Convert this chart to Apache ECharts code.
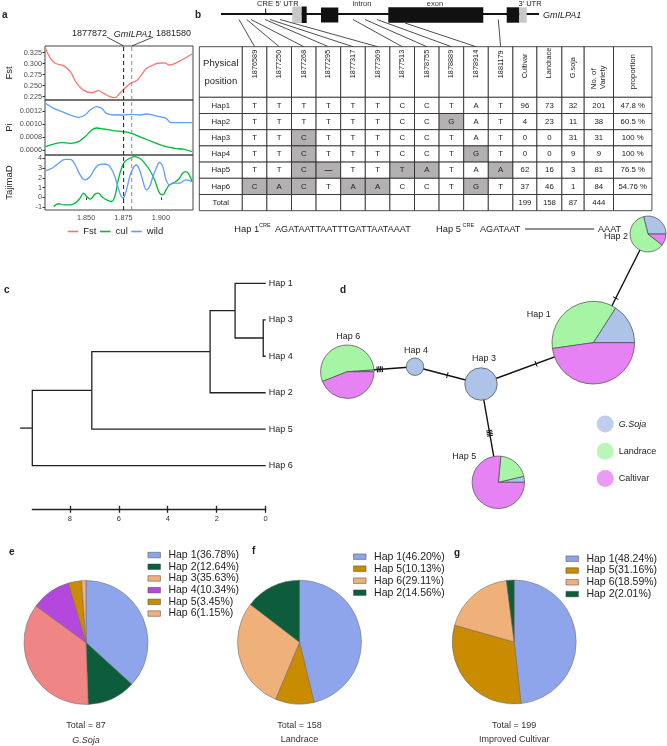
<!DOCTYPE html>
<html>
<head>
<meta charset="utf-8">
<script src="https://cdn.jsdelivr.net/npm/echarts@6/dist/echarts.min.js"></script>
<style>
  html, body { margin: 0; padding: 0; background: #fff; }
  #chart { width: 667px; height: 746px; }
</style>
</head>
<body>
<div id="chart"></div>
<script>
const FONT = '"Liberation Sans", Arial, sans-serif';

// ---------- a: sliding window stats (x in Mb)
const fstPts = [[1.8228,0.335],[1.8261,0.312],[1.8294,0.301],[1.8350,0.295],[1.8394,0.282],[1.8438,0.255],[1.8482,0.240],[1.8538,0.234],[1.8582,0.239],[1.8615,0.233],[1.8659,0.225],[1.8692,0.223],[1.8726,0.233],[1.8759,0.244],[1.8803,0.257],[1.8836,0.261],[1.8869,0.274],[1.8903,0.289],[1.8936,0.295],[1.8980,0.301],[1.9024,0.302],[1.9058,0.297],[1.9124,0.306],[1.9208,0.322]];
const piWildPts = [[1.8228,0.001318],[1.8283,0.001241],[1.8338,0.00119],[1.8394,0.001138],[1.8449,0.001103],[1.8493,0.001138],[1.8527,0.001215],[1.8571,0.001267],[1.8604,0.001241],[1.8637,0.001164],[1.8692,0.001138],[1.8748,0.001138],[1.8803,0.001149],[1.8858,0.001138],[1.8903,0.001154],[1.8947,0.001138],[1.8991,0.001113],[1.9035,0.001087],[1.9069,0.00102],[1.9124,0.00102],[1.9208,0.00102]];
const piCulPts = [[1.8228,0.000651],[1.8283,0.000692],[1.8338,0.000713],[1.8394,0.000703],[1.8449,0.000728],[1.8493,0.000805],[1.8538,0.000908],[1.8571,0.000938],[1.8615,0.000923],[1.8681,0.000897],[1.8748,0.000882],[1.8803,0.000856],[1.8858,0.000805],[1.8914,0.000754],[1.8969,0.000703],[1.9035,0.000651],[1.9091,0.000626],[1.9157,0.00061],[1.9208,0.000574]];
const tdWildPts = [[1.8228,2.71],[1.8272,2.98],[1.8316,3.49],[1.8361,3.90],[1.8394,3.90],[1.8427,3.32],[1.8460,2.31],[1.8493,1.80],[1.8527,2.14],[1.8560,2.98],[1.8593,3.39],[1.8626,3.42],[1.8659,3.15],[1.8692,2.14],[1.8726,0.44],[1.8748,-0.07],[1.8770,0.78],[1.8792,2.14],[1.8814,2.98],[1.8836,3.32],[1.8858,2.81],[1.8881,1.63],[1.8903,0.78],[1.8925,1.12],[1.8947,2.14],[1.8969,2.98],[1.8991,3.59],[1.9013,3.15],[1.9035,1.80],[1.9058,1.29],[1.9080,1.46],[1.9124,1.46],[1.9168,1.80],[1.9208,1.63]];
const tdCulPts = [[1.8283,-0.92],[1.8316,-0.64],[1.8350,-0.75],[1.8394,-0.75],[1.8427,-0.58],[1.8460,-0.07],[1.8482,0.44],[1.8504,0.10],[1.8527,-0.17],[1.8560,0.34],[1.8582,0.44],[1.8604,0.10],[1.8637,-0.24],[1.8670,-0.41],[1.8692,0.10],[1.8715,1.80],[1.8737,2.98],[1.8759,3.66],[1.8792,4.0],[1.8825,4.17],[1.8858,4.0],[1.8892,3.49],[1.8925,2.81],[1.8958,1.80],[1.8991,0.44],[1.9013,0.27],[1.9035,0.78],[1.9058,1.29],[1.9091,1.53],[1.9124,1.97],[1.9146,2.47],[1.9168,2.64],[1.9190,2.31],[1.9208,1.63]];
const geneLabels = ['1877872', '1881580'];
const geneMarkX = [1.8751, 1.8805];   // where the dashed lines sit in the picture
const xTicks = [1.850, 1.875, 1.900];
const fstTicks = [0.225, 0.250, 0.275, 0.300, 0.325];
const piTicks = [0.0006, 0.0008, 0.0010, 0.0012];
const tdTicks = [-1, 0, 1, 2, 3, 4];

// ---------- b: haplotype table
const snpIds = ['1876589','1877250','1877268','1877295','1877317','1877369','1877513','1878755','1878889','1878914','1881179'];
const hapNames = ['Hap1','Hap2','Hap3','Hap4','Hap5','Hap6'];
const hapAlleles = [
  ['T','T','T','T','T','T','C','C','T','A','T'],
  ['T','T','T','T','T','T','C','C','G','A','T'],
  ['T','T','C','T','T','T','C','C','T','A','T'],
  ['T','T','C','T','T','T','C','C','T','G','T'],
  ['T','T','C','—','T','T','T','A','T','A','A'],
  ['C','A','C','T','A','A','C','C','T','G','T']
];
const cultivarN = [96, 4, 0, 0, 62, 37];
const landraceN = [73, 23, 0, 0, 16, 46];
const sojaN = [32, 11, 31, 9, 3, 1];
const varietyN = [201, 38, 31, 9, 81, 84];
const proportion = ['47.8 %', '60.5 %', '100 %', '100 %', '76.5 %', '54.76 %'];
const countHeads = ['Cultivar', 'Landrace', 'G.soja', 'No. of\nVariety', 'proportion'];

// ---------- c: tree
const treeNames = ['root','n1','n2','n3','n4','Hap 1','Hap 3','Hap 4','Hap 2','Hap 5','Hap 6'];
const treeParent = [-1, 0, 1, 2, 3, 3, 4, 4, 2, 1, 0];
const treeHeight = [9.53, 7.1, 2.27, 1.25, 0.1, 0, 0, 0, 0, 0, 0];
const treeTicks = [0, 2, 4, 6, 8];

// ---------- d: network
const netNames = ['Hap 1','Hap 2','Hap 3','Hap 4','Hap 5','Hap 6'];
const netEdges = [[5, 3], [3, 2], [2, 0], [2, 4], [0, 1]];
const groupNames = ['G.Soja', 'Landrace', 'Caltivar'];

// ---------- e-g: pies
const sojaPie = [['Hap 1',36.78],['Hap 2',12.64],['Hap 3',35.63],['Hap 4',10.34],['Hap 5',3.45],['Hap 6',1.15]];
const landPie = [['Hap 1',46.20],['Hap 5',10.13],['Hap 6',29.11],['Hap 2',14.56]];
const cultPie = [['Hap 1',48.24],['Hap 5',31.16],['Hap 6',18.59],['Hap 2',2.01]];
const pieTotals = [87, 158, 199];
const pieTitles = ['G.Soja', 'Landrace', 'Improved Cultivar'];

// ---------- layout & styles
const HAP_COL = {'Hap 1':'#8ea5ec','Hap 2':'#0d5c3b','Hap 3':'#f0b07a','Hap 4':'#b447dc','Hap 5':'#c98b00','Hap 6':'#f0b07a'};
const SOJA_HAP3_SLICE = '#ef8584';
const GROUP_COL = ['#aec3e8', '#a6f5a4', '#e682f3'];
const SHADE = '#b2b0b0';

const TABLE = {left: 199.3, top: 46.7};
const COL_W = [43].concat(Array(11).fill(24.6), [24, 25, 22.3, 29.3, 38.4]);
const COL_X = [0];
COL_W.forEach(w => COL_X.push(COL_X[COL_X.length - 1] + w));
const HEAD_H = 50.6, ROW_H = 16.2;
const TABLE_W = COL_X[COL_X.length - 1], TABLE_H = HEAD_H + ROW_H * 7;

const NET = {left: 300, top: 200, width: 367, height: 310};
const NET_POS = [[293.3, 142.7], [348, 34], [181, 184], [115, 166.7], [198.3, 282.3], [47.3, 171.7]];
const NET_LABEL = [[-54.6, -28.4], [-32, 3], [3, -25], [1, -16], [-34, -25.6], [1, -35]];
const NET_TICK_AT = [0.48, 0.49, 0.49, 0.5, 0.41];
const NET_R = 2.915;

const snpMapX = [239, 246.7, 251, 265, 270, 280, 353, 365, 377, 405, 498.3];

// ---------- table cells
const tableCells = [];
['Physical\nposition'].concat(snpIds, countHeads).forEach((t, c) => tableCells.push({col: c, row: 0, text: t}));
hapNames.forEach((h, i) => {
  const row = i + 1;
  tableCells.push({col: 0, row, text: h});
  hapAlleles[i].forEach((a, k) => tableCells.push({col: k + 1, row, text: a, shade: a !== hapAlleles[0][k]}));
  [cultivarN[i], landraceN[i], sojaN[i], varietyN[i], proportion[i]]
    .forEach((v, k) => tableCells.push({col: 12 + k, row, text: String(v)}));
});
const sum = arr => arr.reduce((a, b) => a + b, 0);
tableCells.push({col: 0, row: 7, text: 'Total'});
snpIds.forEach((s, k) => tableCells.push({col: k + 1, row: 7, text: ''}));
[sum(cultivarN), sum(landraceN), sum(sojaN), sum(varietyN), ''].forEach((v, k) => tableCells.push({col: 12 + k, row: 7, text: String(v)}));

function drawCell(params, api) {
  const cell = tableCells[params.dataIndex];
  const y0 = cell.row === 0 ? 0 : HEAD_H + (cell.row - 1) * ROW_H;
  const y1 = cell.row === 0 ? HEAD_H : y0 + ROW_H;
  const a = api.coord([COL_X[cell.col], y0]);
  const b = api.coord([COL_X[cell.col + 1], y1]);
  const cx = (a[0] + b[0]) / 2, cy = (a[1] + b[1]) / 2;
  const kids = [{
    type: 'rect',
    shape: {x: a[0], y: a[1], width: b[0] - a[0], height: b[1] - a[1]},
    style: {fill: cell.shade ? SHADE : '#fff', stroke: '#222', lineWidth: 0.8}
  }];
  if (cell.row === 0 && cell.col > 0) {
    const wide = cell.col >= 15;
    kids.push({
      type: 'text', x: cx, y: a[1] + (wide ? 42.5 : 31.5), rotation: Math.PI / 2,
      style: {text: cell.text, fontFamily: FONT, fontSize: wide ? 7.8 : 7.3, lineHeight: 9,
        fill: '#222', align: 'left', verticalAlign: 'middle'}
    });
  } else {
    const head = cell.row === 0;
    kids.push({
      type: 'text', x: cx, y: cy,
      style: {text: cell.text, fontFamily: FONT, fontSize: head ? 9.5 : 7.8, lineHeight: head ? 18 : 10,
        fontWeight: cell.text === '—' ? 'bold' : 'normal',
        fill: '#222', align: 'center', verticalAlign: 'middle'}
    });
  }
  return {type: 'group', children: kids};
}

// ---------- tree geometry
const treeY = new Array(treeNames.length).fill(0);
let leafIdx = 0;
treeNames.forEach((n, i) => { if (!treeParent.includes(i)) treeY[i] = leafIdx++; });
for (let i = treeNames.length - 1; i >= 0; i--) {
  const kids = treeParent.map((p, j) => p === i ? j : -1).filter(j => j >= 0);
  if (kids.length) treeY[i] = sum(kids.map(j => treeY[j])) / kids.length;
}
const TREE_LINE = {stroke: '#222', lineWidth: 1.3, fill: 'none'};
function drawTree(params, api) {
  const i = params.dataIndex;
  const pt = api.coord([treeHeight[i], treeY[i]]);
  const p = treeParent[i];
  const kids = [];
  if (p < 0) {
    const s = api.coord([treeHeight[i] + 0.5, treeY[i]]);
    kids.push({type: 'line', shape: {x1: s[0], y1: s[1], x2: pt[0], y2: pt[1]}, style: TREE_LINE});
  } else {
    const q = api.coord([treeHeight[p], treeY[p]]);
    kids.push({type: 'polyline', shape: {points: [[q[0], q[1]], [q[0], pt[1]], pt]}, style: TREE_LINE});
  }
  if (!treeParent.includes(i)) {
    kids.push({type: 'text', x: pt[0] + 3, y: pt[1],
      style: {text: treeNames[i], fontFamily: FONT, fontSize: 9, fill: '#222', align: 'left', verticalAlign: 'middle'}});
  }
  return {type: 'group', children: kids};
}

// ---------- network geometry
const diffCount = (i, j) => hapAlleles[i].filter((a, k) => a !== hapAlleles[j][k]).length;
function drawEdge(params, api) {
  const [i, j] = netEdges[params.dataIndex];
  const p = api.coord(NET_POS[i]), q = api.coord(NET_POS[j]);
  const dx = q[0] - p[0], dy = q[1] - p[1], L = Math.hypot(dx, dy);
  const ux = dx / L, uy = dy / L, nx = -uy, ny = ux;
  const kids = [{type: 'line', shape: {x1: p[0], y1: p[1], x2: q[0], y2: q[1]}, style: {stroke: '#111', lineWidth: 1.4}}];
  const n = diffCount(i, j);
  for (let k = 0; k < n; k++) {
    const d = NET_TICK_AT[params.dataIndex] * L + (k - (n - 1) / 2) * 1.7;
    const cx = p[0] + ux * d, cy = p[1] + uy * d;
    kids.push({type: 'line', shape: {x1: cx - nx * 3, y1: cy - ny * 3, x2: cx + nx * 3, y2: cy + ny * 3},
      style: {stroke: '#111', lineWidth: 1}});
  }
  return {type: 'group', children: kids};
}
function drawNode(params, api) {
  const i = params.dataIndex;
  const c = api.coord(NET_POS[i]);
  const counts = [sojaN[i], landraceN[i], cultivarN[i]];
  const tot = sum(counts);
  const r = NET_R * Math.sqrt(tot);
  const nz = counts.filter(v => v > 0).length;
  const stroke = {stroke: '#4a4a4a', lineWidth: 0.7};
  const kids = [];
  let acc = 0;
  counts.forEach((v, k) => {
    if (!v) return;
    if (nz === 1) {
      kids.push({type: 'circle', shape: {cx: c[0], cy: c[1], r}, style: Object.assign({fill: GROUP_COL[k]}, stroke)});
      return;
    }
    const a0 = acc / tot * Math.PI * 2, a1 = (acc + v) / tot * Math.PI * 2;
    acc += v;
    kids.push({type: 'sector', shape: {cx: c[0], cy: c[1], r0: 0, r, startAngle: -a1, endAngle: -a0, clockwise: true},
      style: Object.assign({fill: GROUP_COL[k]}, stroke)});
  });
  kids.push({type: 'text', x: c[0] + NET_LABEL[i][0], y: c[1] + NET_LABEL[i][1],
    style: {text: netNames[i], fontFamily: FONT, fontSize: 9, fill: '#222', align: 'center', verticalAlign: 'middle'}});
  return {type: 'group', children: kids};
}

// ---------- helpers for graphic annotations
function txt(x, y, text, o) {
  o = o || {};
  const align = o.align || 'left', va = o.va || 'middle';
  return {type: 'text', x, y, silent: true, style: {
    text, fontFamily: FONT, fontSize: o.size || 9, fontStyle: o.italic ? 'italic' : 'normal',
    fontWeight: o.bold ? 'bold' : 'normal', fill: o.color || '#222',
    align, verticalAlign: va, textAlign: align, textVerticalAlign: va}};
}
function seg(x1, y1, x2, y2, w, c) {
  return {type: 'line', silent: true, shape: {x1, y1, x2, y2}, style: {stroke: c || '#222', lineWidth: w || 0.8}};
}
function box(x, y, w, h, fill) {
  return {type: 'rect', silent: true, shape: {x, y, width: w, height: h}, style: {fill}};
}

const graphics = [
  txt(2, 15, 'a', {bold: true, size: 10}),
  txt(195, 15, 'b', {bold: true, size: 10}),
  txt(4, 290, 'c', {bold: true, size: 10}),
  txt(340, 290, 'd', {bold: true, size: 10}),
  txt(9, 552, 'e', {bold: true, size: 10}),
  txt(252, 551, 'f', {bold: true, size: 10}),
  txt(454, 553, 'g', {bold: true, size: 10}),
  // a: gene annotation
  txt(107, 34, geneLabels[0], {align: 'right'}),
  txt(133, 34, 'GmILPA1', {align: 'center', italic: true}),
  txt(156, 34, geneLabels[1]),
  seg(106.7, 37, 123.8, 46, 0.8),
  seg(153.3, 37, 131.8, 46, 0.8),
  // b: gene model
  seg(221, 14, 539, 14, 2, '#111'),
  seg(265.7, 8.5, 265.7, 14, 1, '#111'),
  box(292.3, 6.5, 9.4, 16.5, '#c8c8c8'),
  box(301.7, 6.5, 5, 16.5, '#111'),
  box(321, 7.5, 17.3, 15, '#111'),
  box(388.3, 7.3, 95, 15.4, '#111'),
  box(506.7, 7.3, 12.6, 15.4, '#111'),
  box(519.3, 7.3, 7.4, 15.4, '#c8c8c8'),
  txt(265, 4, 'CRE', {align: 'center', size: 7.5}),
  txt(287, 4, "5' UTR", {align: 'center', size: 7.5}),
  txt(362, 4, 'intron', {align: 'center', size: 7.5, color: '#333'}),
  txt(435, 4, 'exon', {align: 'center', size: 7.5, color: '#333'}),
  txt(530, 4, "3' UTR", {align: 'center', size: 7.5}),
  txt(543, 15, 'GmILPA1', {italic: true, size: 9}),
  // b: CRE sequences
  txt(234.3, 229, 'Hap 1', {size: 9.3}),
  txt(259, 225, 'CRE', {size: 5.5}),
  txt(275, 229, 'AGATAATTAATTTGATTAATAAAT', {size: 9.1}),
  txt(436, 229, 'Hap 5', {size: 9.3}),
  txt(462.5, 225, 'CRE', {size: 5.5}),
  txt(480, 229, 'AGATAAT', {size: 9.1}),
  seg(525, 229, 594, 229, 1, '#222'),
  txt(598, 229, 'AAAT', {size: 9.1})
];
// SNP leader lines from gene model to table columns
snpMapX.forEach((x, k) => {
  const colC = TABLE.left + COL_X[k + 1] + COL_W[k + 1] / 2;
  graphics.push(seg(x, k === 9 ? 23 : 19.5, colC, TABLE.top, 0.8, '#222'));
});
// pie captions
[86, 299.5, 514.2].forEach((x, k) => {
  graphics.push(txt(x, 726, 'Total = ' + pieTotals[k], {align: 'center', size: 9, color: '#333'}));
  graphics.push(txt(x, 740, pieTitles[k], {align: 'center', size: 9, color: '#333', italic: k === 0}));
});

// ---------- axes
const A_LEFT = 45, A_W = 148;
const A_Y = [[0.2175, 0.3402], [0.000523, 0.001369], [-1.28, 4.34]];
const aLabel = {fontSize: 7.3, color: '#4d4d4d', fontFamily: FONT};
function aX(gi, show) {
  return {type: 'value', gridIndex: gi, min: 1.8225, max: 1.9215, splitLine: {show: false}, axisLine: {show: false},
    axisTick: {show: show, length: 2.5, customValues: xTicks, lineStyle: {color: '#333'}},
    axisLabel: Object.assign({show: show, customValues: xTicks, formatter: v => v.toFixed(3), margin: 4}, aLabel)};
}
function aY(gi, ticks, dec, name) {
  return {type: 'value', gridIndex: gi, min: A_Y[gi][0], max: A_Y[gi][1], name, nameLocation: 'middle', nameGap: 31,
    nameTextStyle: {fontSize: 9.5, color: '#222', fontFamily: FONT},
    splitLine: {show: false}, axisLine: {show: false},
    axisTick: {length: 2.5, customValues: ticks, lineStyle: {color: '#333'}},
    axisLabel: Object.assign({customValues: ticks, formatter: v => v.toFixed(dec), margin: 3}, aLabel)};
}
const hidden = (gi, min, max, inverse) => ({type: 'value', gridIndex: gi, min, max, inverse: !!inverse, show: false});
const gridBox = {show: true, borderColor: '#444', borderWidth: 1, outerBoundsMode: 'none', containLabel: false};
const plainGrid = {outerBoundsMode: 'none', containLabel: false};

function statLine(name, data, color, gi) {
  return {type: 'line', name, data, xAxisIndex: gi, yAxisIndex: gi, smooth: 0.4, showSymbol: false, symbol: 'none',
    lineStyle: {color, width: 1.3}, itemStyle: {color}, silent: true, z: 2};
}
// dashed gene boundary lines, one per boundary per panel
function geneLine(gi, k) {
  const x = geneMarkX[k];
  return {type: 'line', name: 'gene' + k, xAxisIndex: gi, yAxisIndex: gi, silent: true, symbol: 'none', z: 3,
    data: [[x, A_Y[gi][0]], [x, A_Y[gi][1]]],
    lineStyle: {color: k === 0 ? '#1a1a1a' : '#8c8c8c', width: 1, type: [4, 3]}};
}

function hapPie(data, center, highlightHap3) {
  return {type: 'pie', radius: 62, center, startAngle: 90, clockwise: true, silent: true,
    label: {show: false}, labelLine: {show: false},
    itemStyle: {borderColor: '#666', borderWidth: 0.5},
    data: data.map(([h, v]) => ({
      name: h + '(' + v.toFixed(2) + '%)', value: v,
      itemStyle: {color: (highlightHap3 && h === 'Hap 3') ? SOJA_HAP3_SLICE : HAP_COL[h]}
    }))};
}
function hapLegend(data, left, top, rowH) {
  return {orient: 'vertical', left, top, itemWidth: 12.5, itemHeight: 5.5, itemGap: 0, icon: 'rect', padding: 0,
    selectedMode: false, itemStyle: {borderColor: '#444', borderWidth: 0.5},
    textStyle: {fontSize: 10.5, lineHeight: rowH, color: '#222', fontFamily: FONT, padding: [0, 0, 0, 3]},
    data: data.map(([h, v]) => ({name: h + '(' + v.toFixed(2) + '%)', itemStyle: {color: HAP_COL[h]}}))};
}

const treeAxisBase = {type: 'value', gridIndex: 4, min: 0, max: 9.53, inverse: true, position: 'bottom', offset: 43.6,
  splitLine: {show: false}};

const option = {
  animation: false,
  backgroundColor: '#fff',
  textStyle: {fontFamily: FONT},
  grid: [
    Object.assign({left: A_LEFT, top: 46, width: A_W, height: 54}, gridBox),
    Object.assign({left: A_LEFT, top: 100, width: A_W, height: 55}, gridBox),
    Object.assign({left: A_LEFT, top: 155, width: A_W, height: 55}, gridBox),
    Object.assign({left: TABLE.left, top: TABLE.top, width: TABLE_W, height: TABLE_H}, plainGrid),
    Object.assign({left: 32.3, top: 283.3, width: 233.4, height: 182.4}, plainGrid),
    Object.assign({left: NET.left, top: NET.top, width: NET.width, height: NET.height}, plainGrid)
  ],
  xAxis: [
    aX(0, false), aX(1, false), aX(2, true),
    hidden(3, 0, TABLE_W),
    Object.assign({}, treeAxisBase, {
      axisLine: {onZero: false, lineStyle: {color: '#222', width: 1.3}},
      axisTick: {customValues: treeTicks, length: 3.5, lineStyle: {color: '#222', width: 1.3}},
      axisLabel: {customValues: treeTicks, fontSize: 7.5, color: '#333', margin: 6}}),
    Object.assign({}, treeAxisBase, {
      axisLine: {show: false, onZero: false}, axisLabel: {show: false},
      axisTick: {inside: true, customValues: treeTicks, length: 3.5, lineStyle: {color: '#222', width: 1.3}}}),
    hidden(5, 0, NET.width)
  ],
  yAxis: [
    aY(0, fstTicks, 3, 'Fst'),
    aY(1, piTicks, 4, 'Pi'),
    aY(2, tdTicks, 0, 'TajimaD'),
    hidden(3, 0, TABLE_H, true),
    hidden(4, 0, 5, true),
    hidden(5, 0, NET.height, true)
  ],
  legend: [
    {left: 67.7, top: 226.5, itemWidth: 10.6, itemHeight: 1.6, icon: 'rect', itemGap: 3.5, padding: 0,
      selectedMode: false, textStyle: {fontSize: 9.5, color: '#222', fontFamily: FONT}, data: ['Fst', 'cul', 'wild']},
    {orient: 'vertical', left: 596.7, top: 415.5, itemWidth: 17, itemHeight: 17, itemGap: 10.3, icon: 'circle',
      padding: 0, selectedMode: false, textStyle: {fontSize: 9, color: '#222', fontFamily: FONT},
      data: groupNames.map((g, k) => ({name: g, textStyle: {fontStyle: k === 0 ? 'italic' : 'normal'}}))},
    hapLegend(sojaPie, 147.7, 549.2, 11.7),
    hapLegend(landPie, 353.3, 550.7, 12),
    hapLegend(cultPie, 565.7, 552.8, 11.8)
  ],
  series: [
    statLine('Fst', fstPts, '#F8766D', 0),
    statLine('cul', piCulPts, '#00BA38', 1),
    statLine('wild', piWildPts, '#619CFF', 1),
    statLine('cul', tdCulPts, '#00BA38', 2),
    statLine('wild', tdWildPts, '#619CFF', 2),
    geneLine(0, 0), geneLine(0, 1), geneLine(1, 0), geneLine(1, 1), geneLine(2, 0), geneLine(2, 1),
    {type: 'custom', name: 'table', xAxisIndex: 3, yAxisIndex: 3, silent: true, clip: false,
      renderItem: drawCell, data: tableCells.map(c => [c.col, c.row])},
    {type: 'custom', name: 'tree', xAxisIndex: 4, yAxisIndex: 4, silent: true, clip: false,
      renderItem: drawTree, data: treeNames.map((n, i) => [treeHeight[i], treeY[i]])},
    {type: 'custom', name: 'edges', xAxisIndex: 6, yAxisIndex: 5, silent: true, clip: false, z: 2,
      renderItem: drawEdge, data: netEdges.map(e => [NET_POS[e[0]][0], NET_POS[e[0]][1]])},
    {type: 'custom', name: 'nodes', xAxisIndex: 6, yAxisIndex: 5, silent: true, clip: false, z: 3,
      renderItem: drawNode, data: NET_POS.map(p => [p[0], p[1]])}
  ].concat(
    groupNames.map((g, k) => ({type: 'scatter', name: g, xAxisIndex: 6, yAxisIndex: 5, data: [],
      itemStyle: {color: GROUP_COL[k]}})),
    [hapPie(sojaPie, [86, 642.5], true), hapPie(landPie, [299.5, 642.2]), hapPie(cultPie, [514.2, 642])]
  ),
  graphic: {elements: graphics}
};

const chart = echarts.init(document.getElementById('chart'), null, {renderer: 'canvas'});
chart.setOption(option);
window.addEventListener('resize', chart.resize);
</script>
</body>
</html>
